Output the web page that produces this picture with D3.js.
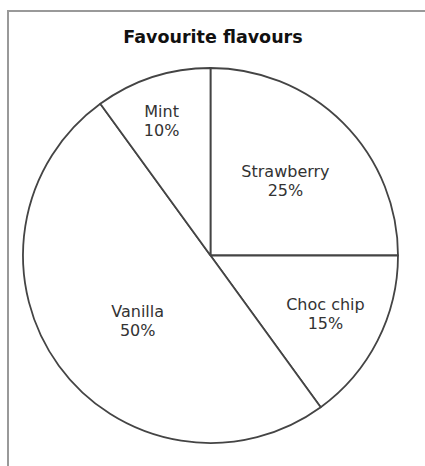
<!DOCTYPE html>
<html>
<head>
<meta charset="utf-8">
<script src="https://cdn.jsdelivr.net/npm/d3@7"></script>
<style>
  body { margin: 0; background: #fff; }
  text { font-family: "DejaVu Sans", Verdana, sans-serif; }
</style>
</head>
<body>
<div id="chart"></div>
<script>
// data
const flavours = ["Strawberry", "Choc chip", "Vanilla", "Mint"];
const shares = [25, 15, 50, 10];
const title = "Favourite flavours";

// label placement (radius in px, angle in degrees clockwise from 12 o'clock)
const labelRadius = [106, 129, 98, 143];
const labelAngle = [45, 117, 228, 340];

const width = 425,
  height = 466;
const cx = 210.5,
  cy = 255.5,
  radius = 187.5;

const svg = d3
  .select("#chart")
  .append("svg")
  .attr("width", width)
  .attr("height", height);

// frame round the picture (top and left only)
svg
  .append("path")
  .attr("d", `M8,${height} L8,11 L${width},11`)
  .attr("fill", "none")
  .attr("stroke", "#999")
  .attr("stroke-width", 2);

svg
  .append("text")
  .attr("x", 213)
  .attr("y", 43)
  .attr("text-anchor", "middle")
  .style("font-size", "17.5px")
  .style("font-weight", "bold")
  .style("fill", "#111")
  .text(title);

const pie = d3
  .pie()
  .sort(null)
  .value((d) => d);

const arcs = pie(shares);

const arc = d3.arc().innerRadius(0).outerRadius(radius);

const g = svg.append("g").attr("transform", `translate(${cx},${cy})`);

g.selectAll(".slice")
  .data(arcs)
  .enter()
  .append("path")
  .attr("class", "slice")
  .attr("d", arc)
  .attr("fill", "#fff")
  .attr("stroke", "#444")
  .attr("stroke-width", 1.8)
  .attr("stroke-linejoin", "round");

const labels = g
  .selectAll(".label")
  .data(arcs)
  .enter()
  .append("text")
  .attr("class", "label")
  .attr("text-anchor", "middle")
  .style("font-size", "16px")
  .style("fill", "#333")
  .attr("transform", (d, i) => {
    const a = (labelAngle[i] * Math.PI) / 180;
    const r = labelRadius[i];
    return `translate(${r * Math.sin(a)},${-r * Math.cos(a)})`;
  });

labels
  .append("tspan")
  .attr("x", 0)
  .attr("y", -4)
  .text((d, i) => flavours[i]);

labels
  .append("tspan")
  .attr("x", 0)
  .attr("y", 15)
  .text((d) => `${d.data}%`);
</script>
</body>
</html>
